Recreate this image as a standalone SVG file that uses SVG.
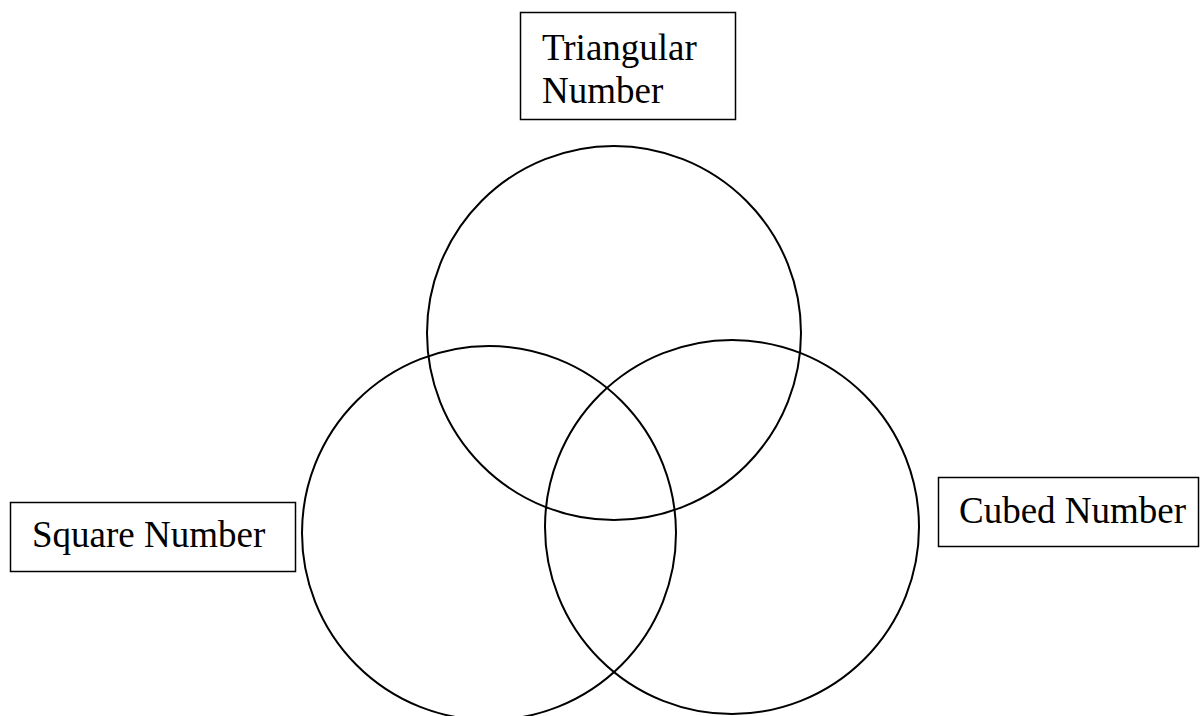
<svg xmlns="http://www.w3.org/2000/svg" width="1200" height="716" viewBox="0 0 1200 716">
<style>
  .circle { fill: none; stroke: #000; stroke-width: 2; }
  .box { fill: #fff; stroke: #000; stroke-width: 1.5; }
  .label { font-family: "Liberation Serif", "Times New Roman", serif; font-size: 37px; fill: #000; }
</style>
<rect x="0" y="0" width="1200" height="716" fill="#fff"/>
<g id="circles">
  <circle id="circle-triangular" class="circle" cx="614" cy="333" r="187"/>
  <circle id="circle-square" class="circle" cx="489" cy="533" r="187"/>
  <circle id="circle-cubed" class="circle" cx="732" cy="527" r="187"/>
</g>
<g id="label-triangular">
  <rect class="box" x="520.5" y="12.5" width="215" height="107"/>
  <text class="label" x="542" y="60">Triangular</text>
  <text class="label" x="542" y="103">Number</text>
</g>
<g id="label-square">
  <rect class="box" x="10.5" y="502.5" width="285" height="69"/>
  <text class="label" x="32" y="547">Square Number</text>
</g>
<g id="label-cubed">
  <rect class="box" x="938.5" y="477.5" width="260" height="69"/>
  <text class="label" x="959" y="523">Cubed Number</text>
</g>
<g id="connectors"></g>
</svg>
